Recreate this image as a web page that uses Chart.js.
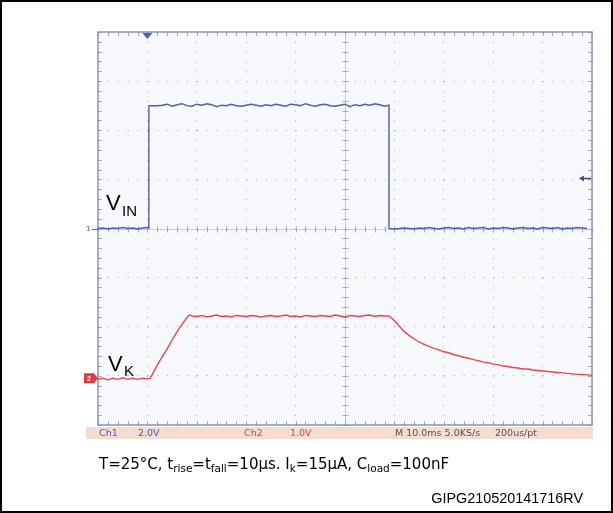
<!DOCTYPE html>
<html>
<head>
<meta charset="utf-8">
<script src="https://cdn.jsdelivr.net/npm/chart.js@4.4.0/dist/chart.umd.min.js"></script>
<style>
  html, body { margin: 0; padding: 0; background: #ffffff; }
  #wrap { position: relative; width: 613px; height: 513px; }
  canvas { display: block; }
</style>
</head>
<body>
<div id="wrap"><canvas id="scope" width="613" height="513"></canvas></div>
<script>
// Channel 1: input voltage V_IN (V), time in ms
const vinTime = [
  0.0, 0.1, 0.2, 0.3, 0.4, 0.5, 0.6, 0.7, 0.8, 0.9, 1.0, 1.03,
  1.03, 1.1, 1.2, 1.3, 1.4, 1.5, 1.6, 1.7, 1.8, 1.9,
  2.0, 2.1, 2.2, 2.3, 2.4, 2.5, 2.6, 2.7, 2.8, 2.9,
  3.0, 3.1, 3.2, 3.3, 3.4, 3.5, 3.6, 3.7, 3.8, 3.9,
  4.0, 4.1, 4.2, 4.3, 4.4, 4.5, 4.6, 4.7, 4.8, 4.9,
  5.0, 5.1, 5.2, 5.3, 5.4, 5.5, 5.6, 5.7, 5.8, 5.89,
  5.89, 5.9, 6.0, 6.1, 6.2, 6.3, 6.4, 6.5, 6.6, 6.7, 6.8, 6.9,
  7.0, 7.1, 7.2, 7.3, 7.4, 7.5, 7.6, 7.7, 7.8, 7.9,
  8.0, 8.1, 8.2, 8.3, 8.4, 8.5, 8.6, 8.7, 8.8, 8.9,
  9.0, 9.1, 9.2, 9.3, 9.4, 9.5, 9.6, 9.7, 9.8, 9.9, 10.0
];
const vinVolts = [
  0.00, 0.02, -0.02, 0.02, 0.00, 0.04, 0.00, 0.02, -0.02, 0.02, 0.04, 0.02,
  5.00, 5.00, 5.00, 5.02, 5.06, 4.98, 5.04, 5.08, 5.00, 4.98,
  5.06, 5.02, 5.08, 5.04, 4.96, 5.02, 5.00, 5.06, 5.00, 4.98,
  5.02, 5.06, 5.02, 4.98, 5.04, 5.00, 5.06, 5.02, 4.98, 5.06,
  5.04, 5.00, 5.08, 5.02, 4.98, 5.04, 5.06, 5.00, 4.98, 5.02,
  5.06, 4.96, 5.04, 5.00, 5.06, 5.02, 5.08, 5.04, 4.98, 5.02,
  0.02, 0.00, -0.02, 0.00, 0.02, 0.00, -0.02, 0.02, 0.00, 0.04, 0.00,
  -0.02, 0.02, 0.04, 0.00, 0.02, -0.02, 0.04, 0.00, 0.02, 0.04,
  -0.02, 0.02, 0.00, 0.04, 0.02, -0.02, 0.02, 0.04, 0.00, 0.02,
  -0.02, 0.04, 0.02, 0.00, 0.04, -0.02, 0.02, 0.00, 0.04, 0.02, 0.00
];

// Channel 2: output voltage V_K (V), time in ms
const vkTime = [
  0.0, 0.1, 0.2, 0.3, 0.4, 0.5, 0.6, 0.7, 0.8, 0.9, 1.0, 1.05,
  1.1, 1.2, 1.3, 1.4, 1.5, 1.6, 1.7, 1.8, 1.85, 1.9,
  2.0, 2.1, 2.2, 2.3, 2.4, 2.5, 2.6, 2.7, 2.8, 2.9,
  3.0, 3.1, 3.2, 3.3, 3.4, 3.5, 3.6, 3.7, 3.8, 3.9,
  4.0, 4.1, 4.2, 4.3, 4.4, 4.5, 4.6, 4.7, 4.8, 4.9,
  5.0, 5.1, 5.2, 5.3, 5.4, 5.5, 5.6, 5.7, 5.8, 5.89,
  5.95, 6.0, 6.1, 6.2, 6.3, 6.4, 6.5, 6.6, 6.7, 6.8, 6.9,
  7.0, 7.1, 7.2, 7.3, 7.4, 7.5, 7.6, 7.7, 7.8, 7.9,
  8.0, 8.1, 8.2, 8.3, 8.4, 8.5, 8.6, 8.7, 8.8, 8.9,
  9.0, 9.1, 9.2, 9.3, 9.4, 9.5, 9.6, 9.7, 9.8, 9.9, 10.0
];
const vkVolts = [
  -0.02, 0.00, -0.03, 0.00, -0.02, 0.01, -0.02, 0.00, -0.02, 0.00, -0.01, 0.00,
  0.08, 0.27, 0.44, 0.60, 0.78, 0.95, 1.10, 1.24, 1.29, 1.27,
  1.26, 1.28, 1.25, 1.27, 1.29, 1.26, 1.27, 1.25, 1.28, 1.27,
  1.26, 1.28, 1.27, 1.25, 1.27, 1.28, 1.26, 1.27, 1.29, 1.26,
  1.27, 1.25, 1.28, 1.27, 1.26, 1.28, 1.27, 1.26, 1.29, 1.27,
  1.25, 1.28, 1.27, 1.26, 1.28, 1.29, 1.26, 1.28, 1.27, 1.27,
  1.22, 1.17, 1.06, 0.95, 0.87, 0.80, 0.74, 0.69, 0.65, 0.61, 0.58,
  0.54, 0.52, 0.48, 0.46, 0.43, 0.41, 0.38, 0.36, 0.33, 0.32,
  0.29, 0.28, 0.25, 0.24, 0.22, 0.21, 0.19, 0.19, 0.17, 0.16,
  0.15, 0.14, 0.13, 0.12, 0.11, 0.10, 0.09, 0.08, 0.08, 0.07, 0.06
];

// Screen settings: 1 ms/div, CH1 2 V/div, CH2 1 V/div
const timeRange = [0, 10];
const ch1Range = [-8, 8];
const ch2Range = [-0.95, 7.05];
const triggerTime = 1.0;
const triggerLevel = 2.06;

const statusItems = [
  { text: 'Ch1', x: 99, color: '#4d5ca8' },
  { text: '2.0V', x: 138, color: '#4d5ca8' },
  { text: 'Ch2', x: 244, color: '#e04848' },
  { text: '1.0V', x: 290, color: '#e04848' },
  { text: 'M 10.0ms 5.0KS/s', x: 395, color: '#555555' },
  { text: '200us/pt', x: 495, color: '#555555' }
];

const toPoints = (ts, vs) => ts.map((t, i) => ({ x: t, y: vs[i] }));

const MINOR = 5; // minor marks per division

const scopeDecor = {
  id: 'scopeDecor',
  beforeDraw(chart) {
    const { ctx, chartArea: a } = chart;
    ctx.save();
    ctx.fillStyle = '#ffffff';
    ctx.fillRect(0, 0, chart.width, chart.height);
    ctx.fillStyle = '#f7f8fc';
    ctx.fillRect(a.left, a.top, a.right - a.left, a.bottom - a.top);
    ctx.restore();
  },
  beforeDatasetsDraw(chart) {
    const { ctx, chartArea: a, scales } = chart;
    const x = scales.x, y = scales.y;
    const cx = Math.round(x.getPixelForValue((timeRange[0] + timeRange[1]) / 2)) + 0.5;
    const cy = Math.round(y.getPixelForValue(0)) + 0.5;
    ctx.save();
    // centre cross lines
    ctx.strokeStyle = 'rgba(160,165,190,0.55)';
    ctx.lineWidth = 1;
    ctx.beginPath();
    ctx.moveTo(cx, a.top); ctx.lineTo(cx, a.bottom);
    ctx.moveTo(a.left, cy); ctx.lineTo(a.right, cy);
    ctx.stroke();
    // minor marks along the centre lines and the frame edges
    ctx.strokeStyle = '#a3a8c0';
    ctx.beginPath();
    const nx = (timeRange[1] - timeRange[0]) * MINOR;
    for (let i = 0; i <= nx; i++) {
      const px = Math.round(x.getPixelForValue(timeRange[0] + i / MINOR)) + 0.5;
      ctx.moveTo(px, cy - 3); ctx.lineTo(px, cy + 3);
      ctx.moveTo(px, a.top); ctx.lineTo(px, a.top + 4);
      ctx.moveTo(px, a.bottom - 4); ctx.lineTo(px, a.bottom);
    }
    const ny = (ch1Range[1] - ch1Range[0]) / 2 * MINOR;
    for (let j = 0; j <= ny; j++) {
      const py = Math.round(y.getPixelForValue(ch1Range[0] + j * 2 / MINOR)) + 0.5;
      ctx.moveTo(cx - 3, py); ctx.lineTo(cx + 3, py);
      ctx.moveTo(a.left, py); ctx.lineTo(a.left + 4, py);
      ctx.moveTo(a.right - 4, py); ctx.lineTo(a.right, py);
    }
    ctx.stroke();
    // frame
    ctx.strokeStyle = '#8c92b2';
    ctx.lineWidth = 1.5;
    ctx.strokeRect(a.left, a.top, a.right - a.left, a.bottom - a.top);
    ctx.restore();
  },
  afterDraw(chart) {
    const { ctx, chartArea: a, scales } = chart;
    const x = scales.x, y = scales.y, y2 = scales.y2;
    ctx.save();

    // trigger position marker (top)
    const tx = x.getPixelForValue(triggerTime);
    ctx.fillStyle = '#4a62b0';
    ctx.beginPath();
    ctx.moveTo(tx - 5, a.top + 1); ctx.lineTo(tx + 5, a.top + 1); ctx.lineTo(tx, a.top + 7);
    ctx.closePath(); ctx.fill();

    // trigger level marker (right)
    const ty = Math.round(y.getPixelForValue(triggerLevel)) + 0.5;
    ctx.strokeStyle = '#3f4f96'; ctx.fillStyle = '#3f4f96'; ctx.lineWidth = 1.5;
    ctx.beginPath(); ctx.moveTo(a.right - 1, ty); ctx.lineTo(a.right - 10, ty); ctx.stroke();
    ctx.beginPath(); ctx.moveTo(a.right - 13, ty); ctx.lineTo(a.right - 8, ty - 3); ctx.lineTo(a.right - 8, ty + 3);
    ctx.closePath(); ctx.fill();

    // CH1 ground marker
    const g1 = y.getPixelForValue(0);
    ctx.fillStyle = '#4d5ca8';
    ctx.font = '8px "Liberation Sans", Arial, sans-serif';
    ctx.textBaseline = 'middle'; ctx.textAlign = 'left';
    ctx.fillText('1', a.left - 12, g1 + 0.5);
    ctx.strokeStyle = '#4d5ca8'; ctx.lineWidth = 1;
    ctx.beginPath(); ctx.moveTo(a.left - 6, Math.round(g1) + 0.5); ctx.lineTo(a.left, Math.round(g1) + 0.5); ctx.stroke();

    // CH2 ground marker
    const g2 = y2.getPixelForValue(0);
    ctx.fillStyle = '#e23a3a';
    ctx.beginPath();
    ctx.moveTo(a.left - 14, g2 - 5); ctx.lineTo(a.left - 4, g2 - 5); ctx.lineTo(a.left, g2);
    ctx.lineTo(a.left - 4, g2 + 5); ctx.lineTo(a.left - 14, g2 + 5);
    ctx.closePath(); ctx.fill();
    ctx.fillStyle = '#ffffff';
    ctx.font = 'bold 7px "Liberation Sans", Arial, sans-serif';
    ctx.fillText('2', a.left - 11, g2 + 0.5);

    // trace labels
    ctx.fillStyle = '#000000';
    ctx.textBaseline = 'alphabetic';
    ctx.font = '22px "Liberation Sans", Arial, sans-serif';
    ctx.fillText('V', 106, 210);
    ctx.font = '15px "Liberation Sans", Arial, sans-serif';
    ctx.fillText('IN', 122, 216);
    ctx.font = '22px "Liberation Sans", Arial, sans-serif';
    ctx.fillText('V', 108, 371);
    ctx.font = '15px "Liberation Sans", Arial, sans-serif';
    ctx.fillText('K', 124, 376);

    // status bar
    ctx.fillStyle = '#f4ddd0';
    ctx.fillRect(86, a.bottom + 2, 507, 12);
    ctx.font = '9.5px "DejaVu Sans", sans-serif';
    ctx.textBaseline = 'middle';
    statusItems.forEach(s => { ctx.fillStyle = s.color; ctx.fillText(s.text, s.x, a.bottom + 8.5); });

    // test conditions caption with subscripts
    ctx.fillStyle = '#000000';
    ctx.textBaseline = 'alphabetic';
    const main = '15px "DejaVu Sans", Verdana, sans-serif';
    const sub = '10.5px "DejaVu Sans", Verdana, sans-serif';
    const parts = [
      ['T=25°C, t', 0], ['rise', 1], ['=t', 0], ['fall', 1], ['=10µs. I', 0], ['k', 1],
      ['=15µA, C', 0], ['load', 1], ['=100nF', 0]
    ];
    let cxp = 99;
    const base = 469;
    parts.forEach(([t, s]) => {
      ctx.font = s ? sub : main;
      ctx.fillText(t, cxp, s ? base + 3 : base);
      cxp += ctx.measureText(t).width;
    });

    // figure code
    ctx.font = '14.4px "Liberation Sans", Arial, sans-serif';
    ctx.textAlign = 'right';
    ctx.fillText('GIPG210520141716RV', 583, 503);

    // outer frame
    ctx.strokeStyle = '#000000';
    ctx.lineWidth = 2;
    ctx.strokeRect(1, 1, chart.width - 2, chart.height - 2);
    ctx.restore();
  }
};

new Chart(document.getElementById('scope'), {
  type: 'line',
  data: {
    datasets: [
      {
        label: 'V_IN',
        data: toPoints(vinTime, vinVolts),
        yAxisID: 'y',
        borderColor: '#4f5eae',
        borderWidth: 1.4,
        pointRadius: 0,
        tension: 0
      },
      {
        label: 'V_K',
        data: toPoints(vkTime, vkVolts),
        yAxisID: 'y2',
        borderColor: '#e4474f',
        borderWidth: 1.4,
        pointRadius: 0,
        tension: 0
      }
    ]
  },
  options: {
    responsive: false,
    animation: false,
    events: [],
    layout: { padding: { left: 98, top: 32, right: 21, bottom: 88 } },
    plugins: { legend: { display: false }, tooltip: { enabled: false } },
    scales: {
      x: {
        type: 'linear', min: timeRange[0], max: timeRange[1],
        ticks: { stepSize: 1, display: false },
        grid: { color: '#a9aec4', lineWidth: 1, drawTicks: false },
        border: { display: false, dash: [1.2, 8.62] }
      },
      y: {
        min: ch1Range[0], max: ch1Range[1],
        ticks: { stepSize: 2, display: false },
        grid: { color: '#a9aec4', lineWidth: 1, drawTicks: false },
        border: { display: false, dash: [1.2, 8.68] }
      },
      y2: {
        display: false, min: ch2Range[0], max: ch2Range[1]
      }
    }
  },
  plugins: [scopeDecor]
});
</script>
</body>
</html>
